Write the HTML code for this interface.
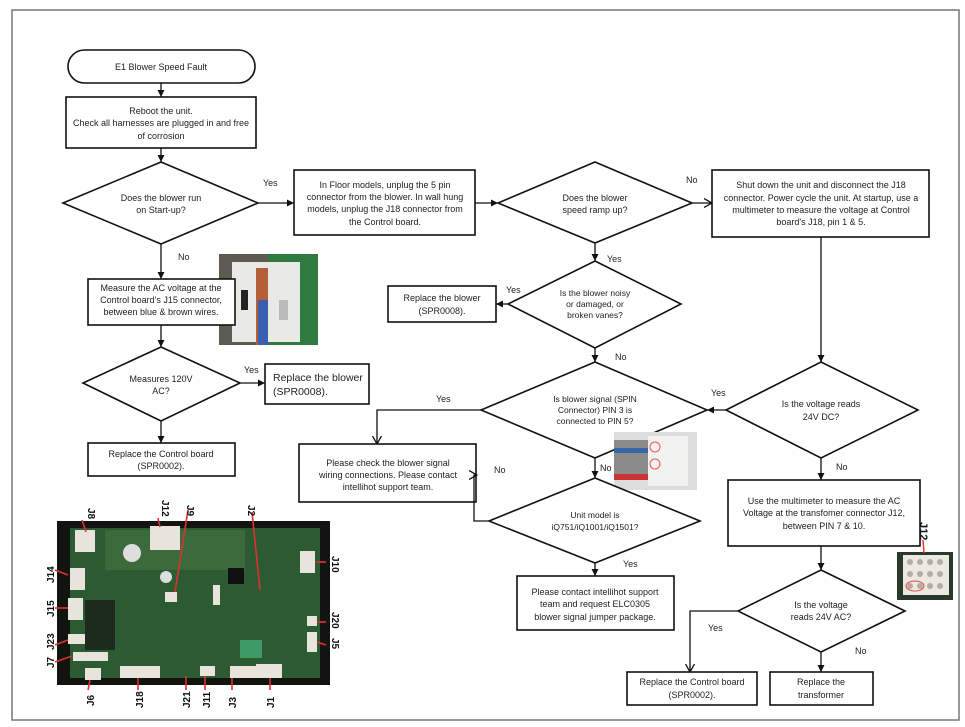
<!DOCTYPE html>
<html><head><meta charset="utf-8"><style>
html,body{margin:0;padding:0;background:#fff}
svg{display:block}
text{font-family:"Liberation Sans",sans-serif;font-size:9px;fill:#222}
.l{font-size:9.5px}
.s{fill:#fff;stroke:#111;stroke-width:1.6}
.c{fill:none;stroke:#111;stroke-width:1.3}
.jl{font-size:10px;font-weight:bold;fill:#111}
</style></head><body>
<svg width="965" height="727" viewBox="0 0 965 727">
<defs><marker id="a" markerWidth="8" markerHeight="8" refX="7" refY="4" orient="auto" markerUnits="userSpaceOnUse"><path d="M0,0.5 L7,4 L0,7.5 z" fill="#111"/></marker>
<marker id="o" markerWidth="9" markerHeight="10" refX="8" refY="5" orient="auto" markerUnits="userSpaceOnUse"><path d="M0,0.5 L8,5 L0,9.5" fill="none" stroke="#111" stroke-width="1.3"/></marker></defs>
<rect x="12" y="10" width="947" height="710" fill="none" stroke="#777" stroke-width="1.5"/>

<!-- photo -->
<rect x="219" y="254" width="99" height="91" fill="#5d5a52"/>
<rect x="268" y="254" width="50" height="91" fill="#2f7a3e"/>
<rect x="232" y="262" width="68" height="80" fill="#e9e9e6"/>
<rect x="256" y="268" width="12" height="77" fill="#b55f3a"/>
<rect x="258" y="300" width="10" height="45" fill="#3a5fb0"/>
<rect x="241" y="290" width="7" height="20" fill="#222"/>
<rect x="279" y="300" width="9" height="20" fill="#bbb"/>

<!-- left column -->
<rect class="s" x="68" y="50" width="187" height="33" rx="16.5"/>
<text x="161" y="70" text-anchor="middle">E1 Blower Speed Fault</text>
<line class="c" x1="161" y1="83" x2="161" y2="97" marker-end="url(#a)"/>
<rect class="s" x="66" y="97" width="190" height="51"/>
<text x="161" y="114" text-anchor="middle">Reboot the unit.</text>
<text x="161" y="126" text-anchor="middle">Check all harnesses are plugged in and free</text>
<text x="161" y="139" text-anchor="middle">of corrosion</text>
<line class="c" x1="161" y1="148" x2="161" y2="162" marker-end="url(#a)"/>
<polygon class="s" points="161,162 258,203 161,244 63,203"/>
<text x="161" y="201" text-anchor="middle">Does the blower run</text>
<text x="161" y="213" text-anchor="middle">on Start-up?</text>
<line class="c" x1="258" y1="203" x2="294" y2="203" marker-end="url(#a)"/>
<text x="263" y="186">Yes</text>
<line class="c" x1="161" y1="244" x2="161" y2="279" marker-end="url(#a)"/>
<text x="178" y="260">No</text>
<rect class="s" x="88" y="279" width="147" height="46"/>
<text x="161" y="291" text-anchor="middle">Measure the AC voltage at the</text>
<text x="161" y="303" text-anchor="middle">Control board's J15 connector,</text>
<text x="161" y="315" text-anchor="middle">between blue &amp; brown wires.</text>
<line class="c" x1="161" y1="325" x2="161" y2="347" marker-end="url(#a)"/>
<polygon class="s" points="161,347 240,383 161,421 83,383"/>
<text x="161" y="382" text-anchor="middle">Measures 120V</text>
<text x="161" y="394" text-anchor="middle">AC?</text>
<line class="c" x1="240" y1="383" x2="265" y2="383" marker-end="url(#a)"/>
<text x="244" y="373">Yes</text>
<rect class="s" x="265" y="364" width="104" height="40"/>
<text x="273" y="381" class="l" style="font-size:10.5px">Replace the blower</text>
<text x="273" y="395" class="l" style="font-size:10.5px">(SPR0008).</text>
<line class="c" x1="161" y1="421" x2="161" y2="443" marker-end="url(#a)"/>
<rect class="s" x="88" y="443" width="147" height="33"/>
<text x="161" y="457" text-anchor="middle">Replace the Control board</text>
<text x="161" y="469" text-anchor="middle">(SPR0002).</text>

<!-- PCB -->
<rect x="57" y="521" width="273" height="164" fill="#121410"/>
<rect x="70" y="528" width="250" height="150" fill="#2c5a32"/>
<rect x="105" y="530" width="140" height="40" fill="#3b6a3c"/>
<g fill="#e8e4dc">
<rect x="75" y="530" width="20" height="22"/><rect x="150" y="526" width="30" height="24"/>
<rect x="70" y="568" width="15" height="22"/><rect x="68" y="598" width="15" height="22"/>
<rect x="68" y="634" width="20" height="10"/><rect x="73" y="652" width="35" height="9"/>
<rect x="85" y="668" width="16" height="12"/><rect x="120" y="666" width="40" height="12"/>
<rect x="200" y="666" width="15" height="10"/><rect x="230" y="666" width="26" height="12"/>
<rect x="256" y="664" width="26" height="14"/><rect x="300" y="551" width="15" height="22"/>
<rect x="307" y="616" width="10" height="10"/><rect x="307" y="632" width="10" height="20"/>
<rect x="213" y="585" width="7" height="20"/><rect x="165" y="592" width="12" height="10"/>
</g>
<rect x="85" y="600" width="30" height="50" fill="#1d2a1e"/>
<rect x="240" y="640" width="22" height="18" fill="#3e9a66"/>
<rect x="228" y="568" width="16" height="16" fill="#111"/>
<circle cx="132" cy="553" r="9" fill="#ddd"/><circle cx="166" cy="577" r="6" fill="#ddd"/>
<g stroke="#e03030" stroke-width="1.6">
<line x1="82" y1="520" x2="86" y2="532"/><line x1="158" y1="518" x2="160" y2="527"/>
<line x1="188" y1="510" x2="175" y2="592"/><line x1="252" y1="512" x2="260" y2="590"/>
<line x1="68" y1="575" x2="55" y2="570"/><line x1="68" y1="608" x2="55" y2="608"/>
<line x1="68" y1="640" x2="55" y2="645"/><line x1="72" y1="656" x2="55" y2="662"/>
<line x1="90" y1="680" x2="88" y2="690"/><line x1="138" y1="678" x2="138" y2="690"/>
<line x1="186" y1="676" x2="186" y2="690"/><line x1="205" y1="676" x2="205" y2="690"/>
<line x1="232" y1="678" x2="232" y2="690"/><line x1="270" y1="678" x2="270" y2="690"/>
<line x1="316" y1="562" x2="326" y2="562"/><line x1="317" y1="622" x2="326" y2="622"/>
<line x1="317" y1="642" x2="326" y2="645"/>
</g>
<g class="jl">
<text transform="translate(88,508) rotate(90)" class="jl">J8</text>
<text transform="translate(162,500) rotate(90)" class="jl">J12</text>
<text transform="translate(187,505) rotate(90)" class="jl">J9</text>
<text transform="translate(248,505) rotate(90)" class="jl">J2</text>
<text transform="translate(54,583) rotate(-90)" class="jl">J14</text>
<text transform="translate(54,617) rotate(-90)" class="jl">J15</text>
<text transform="translate(54,650) rotate(-90)" class="jl">J23</text>
<text transform="translate(54,668) rotate(-90)" class="jl">J7</text>
<text transform="translate(94,706) rotate(-90)" class="jl">J6</text>
<text transform="translate(143,708) rotate(-90)" class="jl">J18</text>
<text transform="translate(190,708) rotate(-90)" class="jl">J21</text>
<text transform="translate(210,708) rotate(-90)" class="jl">J11</text>
<text transform="translate(236,708) rotate(-90)" class="jl">J3</text>
<text transform="translate(274,708) rotate(-90)" class="jl">J1</text>
<text transform="translate(332,556) rotate(90)" class="jl">J10</text>
<text transform="translate(332,612) rotate(90)" class="jl">J20</text>
<text transform="translate(332,638) rotate(90)" class="jl">J5</text>
</g>

<!-- middle -->
<rect class="s" x="294" y="170" width="181" height="65"/>
<text x="385" y="188" text-anchor="middle">In Floor models, unplug the 5 pin</text>
<text x="385" y="200" text-anchor="middle">connector from the blower. In wall hung</text>
<text x="385" y="212" text-anchor="middle">models, unplug the J18 connector from</text>
<text x="385" y="225" text-anchor="middle">the Control board.</text>
<line class="c" x1="475" y1="203" x2="498" y2="203" marker-end="url(#a)"/>
<polygon class="s" points="595,162 692,203 595,243 498,203"/>
<text x="595" y="201" text-anchor="middle">Does the blower</text>
<text x="595" y="213" text-anchor="middle">speed ramp up?</text>
<line class="c" x1="692" y1="203" x2="712" y2="203" marker-end="url(#o)"/>
<text x="686" y="183">No</text>
<line class="c" x1="595" y1="243" x2="595" y2="261" marker-end="url(#a)"/>
<text x="607" y="262">Yes</text>
<polygon class="s" points="595,261 681,304 595,348 508,304"/>
<text x="595" y="296" text-anchor="middle" style="font-size:8.5px">Is the blower noisy</text>
<text x="595" y="307" text-anchor="middle" style="font-size:8.5px">or damaged, or</text>
<text x="595" y="318" text-anchor="middle" style="font-size:8.5px">broken vanes?</text>
<line class="c" x1="508" y1="304" x2="496" y2="304" marker-end="url(#a)"/>
<text x="506" y="293">Yes</text>
<rect class="s" x="388" y="286" width="108" height="36"/>
<text x="442" y="301" text-anchor="middle">Replace the blower</text>
<text x="442" y="314" text-anchor="middle">(SPR0008).</text>
<line class="c" x1="595" y1="348" x2="595" y2="362" marker-end="url(#a)"/>
<text x="615" y="360">No</text>
<polygon class="s" points="595,362 707,410 595,458 481,410"/>
<text x="595" y="402" text-anchor="middle" style="font-size:8.5px">Is blower signal (SPIN</text>
<text x="595" y="413" text-anchor="middle" style="font-size:8.5px">Connector) PIN 3 is</text>
<text x="595" y="424" text-anchor="middle" style="font-size:8.5px">connected to PIN 5?</text>
<polyline class="c" points="481,410 377,410 377,444" marker-end="url(#o)"/>
<text x="436" y="402">Yes</text>
<rect class="s" x="299" y="444" width="177" height="58"/>
<text x="388" y="466" text-anchor="middle">Please check the blower signal</text>
<text x="388" y="478" text-anchor="middle">wiring connections. Please contact</text>
<text x="388" y="490" text-anchor="middle">intellihot support team.</text>
<line class="c" x1="595" y1="458" x2="595" y2="478" marker-end="url(#a)"/>
<text x="600" y="471">No</text>
<rect x="614" y="432" width="83" height="58" fill="#ddd"/>
<rect x="614" y="440" width="40" height="40" fill="#8a8a8a"/>
<rect x="614" y="474" width="60" height="6" fill="#c33"/>
<rect x="614" y="448" width="40" height="5" fill="#3566a8"/>
<rect x="648" y="436" width="40" height="50" fill="#f2f2f0"/>
<circle cx="655" cy="447" r="5" fill="none" stroke="#e55" stroke-width="1"/>
<circle cx="655" cy="464" r="5" fill="none" stroke="#e55" stroke-width="1"/>
<polygon class="s" points="595,478 700,521 595,563 489,521"/>
<text x="595" y="518" text-anchor="middle" style="font-size:8.5px">Unit model is</text>
<text x="595" y="530" text-anchor="middle" style="font-size:8.5px">iQ751/iQ1001/iQ1501?</text>
<polyline class="c" points="489,521 474,521 474,475 477,475" marker-end="url(#o)"/>
<text x="494" y="473">No</text>
<line class="c" x1="595" y1="563" x2="595" y2="576" marker-end="url(#a)"/>
<text x="623" y="567">Yes</text>
<rect class="s" x="517" y="576" width="157" height="54"/>
<text x="595" y="595" text-anchor="middle">Please contact intellihot support</text>
<text x="595" y="607" text-anchor="middle">team and request ELC0305</text>
<text x="595" y="620" text-anchor="middle">blower signal jumper package.</text>

<!-- right -->
<rect class="s" x="712" y="170" width="217" height="67"/>
<text x="821" y="188" text-anchor="middle">Shut down the unit and disconnect the J18</text>
<text x="821" y="201" text-anchor="middle">connector. Power cycle the unit. At startup, use a</text>
<text x="821" y="213" text-anchor="middle">multimeter to measure the voltage at Control</text>
<text x="821" y="225" text-anchor="middle">board's J18, pin 1 &amp; 5.</text>
<line class="c" x1="821" y1="237" x2="821" y2="362" marker-end="url(#a)"/>
<polygon class="s" points="821,362 918,410 821,458 726,410"/>
<text x="821" y="407" text-anchor="middle">Is the voltage reads</text>
<text x="821" y="420" text-anchor="middle">24V DC?</text>
<line class="c" x1="726" y1="410" x2="707" y2="410" marker-end="url(#a)"/>
<text x="711" y="396">Yes</text>
<line class="c" x1="821" y1="458" x2="821" y2="480" marker-end="url(#a)"/>
<text x="836" y="470">No</text>
<rect class="s" x="728" y="480" width="192" height="66"/>
<text x="824" y="504" text-anchor="middle">Use the multimeter to measure the AC</text>
<text x="824" y="516" text-anchor="middle">Voltage at the transfomer connector J12,</text>
<text x="824" y="529" text-anchor="middle">between PIN 7 &amp; 10.</text>
<text transform="translate(920,522) rotate(90)" class="jl" style="font-size:11px">J12</text>
<rect x="897" y="552" width="56" height="48" fill="#2a3a2a"/>
<rect x="903" y="555" width="46" height="40" fill="#ece9e2"/>
<g fill="#b3ada2"><circle cx="910" cy="562" r="3"/><circle cx="920" cy="562" r="3"/><circle cx="930" cy="562" r="3"/><circle cx="940" cy="562" r="3"/>
<circle cx="910" cy="574" r="3"/><circle cx="920" cy="574" r="3"/><circle cx="930" cy="574" r="3"/><circle cx="940" cy="574" r="3"/>
<circle cx="910" cy="586" r="3"/><circle cx="920" cy="586" r="3"/><circle cx="930" cy="586" r="3"/><circle cx="940" cy="586" r="3"/></g>
<ellipse cx="915" cy="586" rx="9" ry="5" fill="none" stroke="#e44" stroke-width="1"/>
<line x1="923" y1="540" x2="924" y2="553" stroke="#e33" stroke-width="1.5"/>
<line class="c" x1="821" y1="546" x2="821" y2="570" marker-end="url(#a)"/>
<polygon class="s" points="821,570 905,611 821,652 738,611"/>
<text x="821" y="608" text-anchor="middle">Is the voltage</text>
<text x="821" y="620" text-anchor="middle">reads 24V AC?</text>
<polyline class="c" points="738,611 690,611 690,672" marker-end="url(#o)"/>
<text x="708" y="631">Yes</text>
<line class="c" x1="821" y1="652" x2="821" y2="672" marker-end="url(#a)"/>
<text x="855" y="654">No</text>
<rect class="s" x="627" y="672" width="130" height="33"/>
<text x="692" y="685" text-anchor="middle">Replace the Control board</text>
<text x="692" y="698" text-anchor="middle">(SPR0002).</text>
<rect class="s" x="770" y="672" width="103" height="33"/>
<text x="821" y="685" text-anchor="middle">Replace the</text>
<text x="821" y="698" text-anchor="middle">transformer</text>
</svg>
</body></html>
